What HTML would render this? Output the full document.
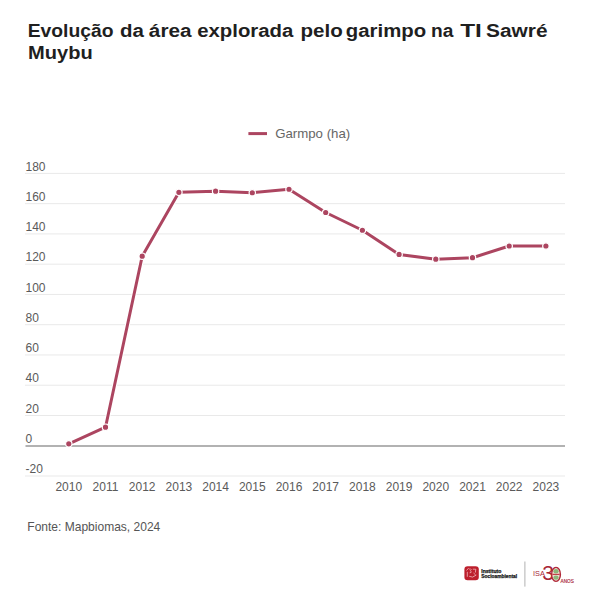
<!DOCTYPE html>
<html><head><meta charset="utf-8"><style>
html,body{margin:0;padding:0;background:#fff;width:600px;height:600px;overflow:hidden}
svg{position:absolute;left:0;top:0}
text{font-family:"Liberation Sans",sans-serif}
.title{font-size:18px;font-weight:bold;fill:#1f1f1f}
.yl{font-size:12px;fill:#5a5a5a}
.xl{font-size:12px;fill:#5a5a5a}
.leg{font-size:13px;fill:#666}
.src{font-size:13px;fill:#555}
</style></head><body>
<svg width="600" height="600" viewBox="0 0 600 600">
<text x="27.68" y="37" class="title" textLength="85.93" lengthAdjust="spacingAndGlyphs">Evolução</text><text x="120.11" y="37" class="title" textLength="23.91" lengthAdjust="spacingAndGlyphs">da</text><text x="148.85" y="37" class="title" textLength="42.71" lengthAdjust="spacingAndGlyphs">área</text><text x="197.17" y="37" class="title" textLength="96.18" lengthAdjust="spacingAndGlyphs">explorada</text><text x="300.56" y="37" class="title" textLength="42.3" lengthAdjust="spacingAndGlyphs">pelo</text><text x="345.87" y="37" class="title" textLength="80.28" lengthAdjust="spacingAndGlyphs">garimpo</text><text x="431.14" y="37" class="title" textLength="22.38" lengthAdjust="spacingAndGlyphs">na</text><text x="460.2" y="37" class="title" textLength="21.65" lengthAdjust="spacingAndGlyphs">TI</text><text x="486.04" y="37" class="title" textLength="61.47" lengthAdjust="spacingAndGlyphs">Sawré</text><text x="28.08" y="58.5" class="title" textLength="64.73" lengthAdjust="spacingAndGlyphs">Muybu</text>
<line x1="248.4" x2="267" y1="133.6" y2="133.6" stroke="#ac4560" stroke-width="3"/>
<text x="275.2" y="138" class="leg" textLength="75" lengthAdjust="spacingAndGlyphs">Garmpo (ha)</text>
<line x1="25" x2="565" y1="173.40" y2="173.40" stroke="#e9e9e9" stroke-width="1"/><line x1="25" x2="565" y1="203.66" y2="203.66" stroke="#e9e9e9" stroke-width="1"/><line x1="25" x2="565" y1="233.92" y2="233.92" stroke="#e9e9e9" stroke-width="1"/><line x1="25" x2="565" y1="264.18" y2="264.18" stroke="#e9e9e9" stroke-width="1"/><line x1="25" x2="565" y1="294.44" y2="294.44" stroke="#e9e9e9" stroke-width="1"/><line x1="25" x2="565" y1="324.70" y2="324.70" stroke="#e9e9e9" stroke-width="1"/><line x1="25" x2="565" y1="354.96" y2="354.96" stroke="#e9e9e9" stroke-width="1"/><line x1="25" x2="565" y1="385.22" y2="385.22" stroke="#e9e9e9" stroke-width="1"/><line x1="25" x2="565" y1="415.48" y2="415.48" stroke="#e9e9e9" stroke-width="1"/><line x1="25.5" x2="565" y1="446" y2="446" stroke="#b2b2b2" stroke-width="2"/><line x1="25" x2="565" y1="476.00" y2="476.00" stroke="#e9e9e9" stroke-width="1"/>
<text x="25.5" y="170.60" class="yl">180</text><text x="25.5" y="200.86" class="yl">160</text><text x="25.5" y="231.12" class="yl">140</text><text x="25.5" y="261.38" class="yl">120</text><text x="25.5" y="291.64" class="yl">100</text><text x="25.5" y="321.90" class="yl">80</text><text x="25.5" y="352.16" class="yl">60</text><text x="25.5" y="382.42" class="yl">40</text><text x="25.5" y="412.68" class="yl">20</text><text x="25.5" y="442.94" class="yl">0</text><text x="25.5" y="473.20" class="yl">-20</text>
<text x="68.80" y="491" class="xl" text-anchor="middle">2010</text><text x="105.50" y="491" class="xl" text-anchor="middle">2011</text><text x="142.20" y="491" class="xl" text-anchor="middle">2012</text><text x="178.90" y="491" class="xl" text-anchor="middle">2013</text><text x="215.60" y="491" class="xl" text-anchor="middle">2014</text><text x="252.30" y="491" class="xl" text-anchor="middle">2015</text><text x="289.00" y="491" class="xl" text-anchor="middle">2016</text><text x="325.70" y="491" class="xl" text-anchor="middle">2017</text><text x="362.40" y="491" class="xl" text-anchor="middle">2018</text><text x="399.10" y="491" class="xl" text-anchor="middle">2019</text><text x="435.80" y="491" class="xl" text-anchor="middle">2020</text><text x="472.50" y="491" class="xl" text-anchor="middle">2021</text><text x="509.20" y="491" class="xl" text-anchor="middle">2022</text><text x="545.90" y="491" class="xl" text-anchor="middle">2023</text>
<polyline points="68.80,443.80 105.50,427.20 142.20,256.20 178.90,192.30 215.60,191.20 252.30,192.75 289.00,189.25 325.70,212.50 362.40,230.25 399.10,254.40 435.80,259.20 472.50,257.70 509.20,246.00 545.90,246.00" fill="none" stroke="#fff" stroke-width="5" stroke-linejoin="round"/>
<polyline points="68.80,443.80 105.50,427.20 142.20,256.20 178.90,192.30 215.60,191.20 252.30,192.75 289.00,189.25 325.70,212.50 362.40,230.25 399.10,254.40 435.80,259.20 472.50,257.70 509.20,246.00 545.90,246.00" fill="none" stroke="#ac4560" stroke-width="3" stroke-linejoin="round"/>
<circle cx="68.80" cy="443.80" r="3.2" fill="#ac4560" stroke="#fff" stroke-width="1.2"/><circle cx="105.50" cy="427.20" r="3.2" fill="#ac4560" stroke="#fff" stroke-width="1.2"/><circle cx="142.20" cy="256.20" r="3.2" fill="#ac4560" stroke="#fff" stroke-width="1.2"/><circle cx="178.90" cy="192.30" r="3.2" fill="#ac4560" stroke="#fff" stroke-width="1.2"/><circle cx="215.60" cy="191.20" r="3.2" fill="#ac4560" stroke="#fff" stroke-width="1.2"/><circle cx="252.30" cy="192.75" r="3.2" fill="#ac4560" stroke="#fff" stroke-width="1.2"/><circle cx="289.00" cy="189.25" r="3.2" fill="#ac4560" stroke="#fff" stroke-width="1.2"/><circle cx="325.70" cy="212.50" r="3.2" fill="#ac4560" stroke="#fff" stroke-width="1.2"/><circle cx="362.40" cy="230.25" r="3.2" fill="#ac4560" stroke="#fff" stroke-width="1.2"/><circle cx="399.10" cy="254.40" r="3.2" fill="#ac4560" stroke="#fff" stroke-width="1.2"/><circle cx="435.80" cy="259.20" r="3.2" fill="#ac4560" stroke="#fff" stroke-width="1.2"/><circle cx="472.50" cy="257.70" r="3.2" fill="#ac4560" stroke="#fff" stroke-width="1.2"/><circle cx="509.20" cy="246.00" r="3.2" fill="#ac4560" stroke="#fff" stroke-width="1.2"/><circle cx="545.90" cy="246.00" r="3.2" fill="#ac4560" stroke="#fff" stroke-width="1.2"/>
<text x="27.3" y="530.5" class="src" textLength="133" lengthAdjust="spacingAndGlyphs">Fonte: Mapbiomas, 2024</text>
<!-- logo -->
<rect x="464.4" y="566.2" width="14.4" height="14.1" rx="3.2" fill="#bd1f2d"/>
<path d="M466.8 570.2 l1.6 -1.8 M467.3 572.2 v4.2 M469.6 569 q1.2 -0.6 1.6 0.6 q-1.6 1.2 0 2.2 q0.6 0.8 -1.2 1 M473.2 569.2 h2.6 l-0.4 3 M469.5 576.5 q3 2 6.5 -1.2 M473.8 573.3 l1.5 1.3" stroke="#f7d0d0" stroke-width="0.7" fill="none" stroke-linecap="round"/>
<text x="481.3" y="573.3" style="font-size:5.4px;font-weight:bold;fill:#111;stroke:#111;stroke-width:0.25" textLength="20" lengthAdjust="spacingAndGlyphs">Instituto</text>
<text x="481.3" y="578.1" style="font-size:5.4px;font-weight:bold;fill:#111;stroke:#111;stroke-width:0.25" textLength="35.8" lengthAdjust="spacingAndGlyphs">Socioambiental</text>
<line x1="524.9" x2="524.9" y1="561.5" y2="586.6" stroke="#a8a8a8" stroke-width="0.9"/>
<text x="533" y="575.5" style="font-size:7.6px;fill:#a82636" textLength="11.8" lengthAdjust="spacingAndGlyphs">ISA</text>
<text x="542.2" y="580.2" style="font-size:21px;fill:#a82636">3</text>
<ellipse cx="556" cy="574.4" rx="4.4" ry="7" fill="#f0dcd0" stroke="#b02838" stroke-width="1.4"/>
<ellipse cx="556" cy="571.2" rx="2.6" ry="2.2" fill="#8db57a"/>
<ellipse cx="556" cy="577.6" rx="2.6" ry="2.2" fill="#8db57a"/>
<path d="M552.3 574.4 h7.4" stroke="#c0404a" stroke-width="1.2"/>
<text x="560.6" y="582.6" style="font-size:4.6px;fill:#a82636;stroke:#a82636;stroke-width:0.15" textLength="13.2" lengthAdjust="spacingAndGlyphs">ANOS</text>
</svg>
</body></html>
